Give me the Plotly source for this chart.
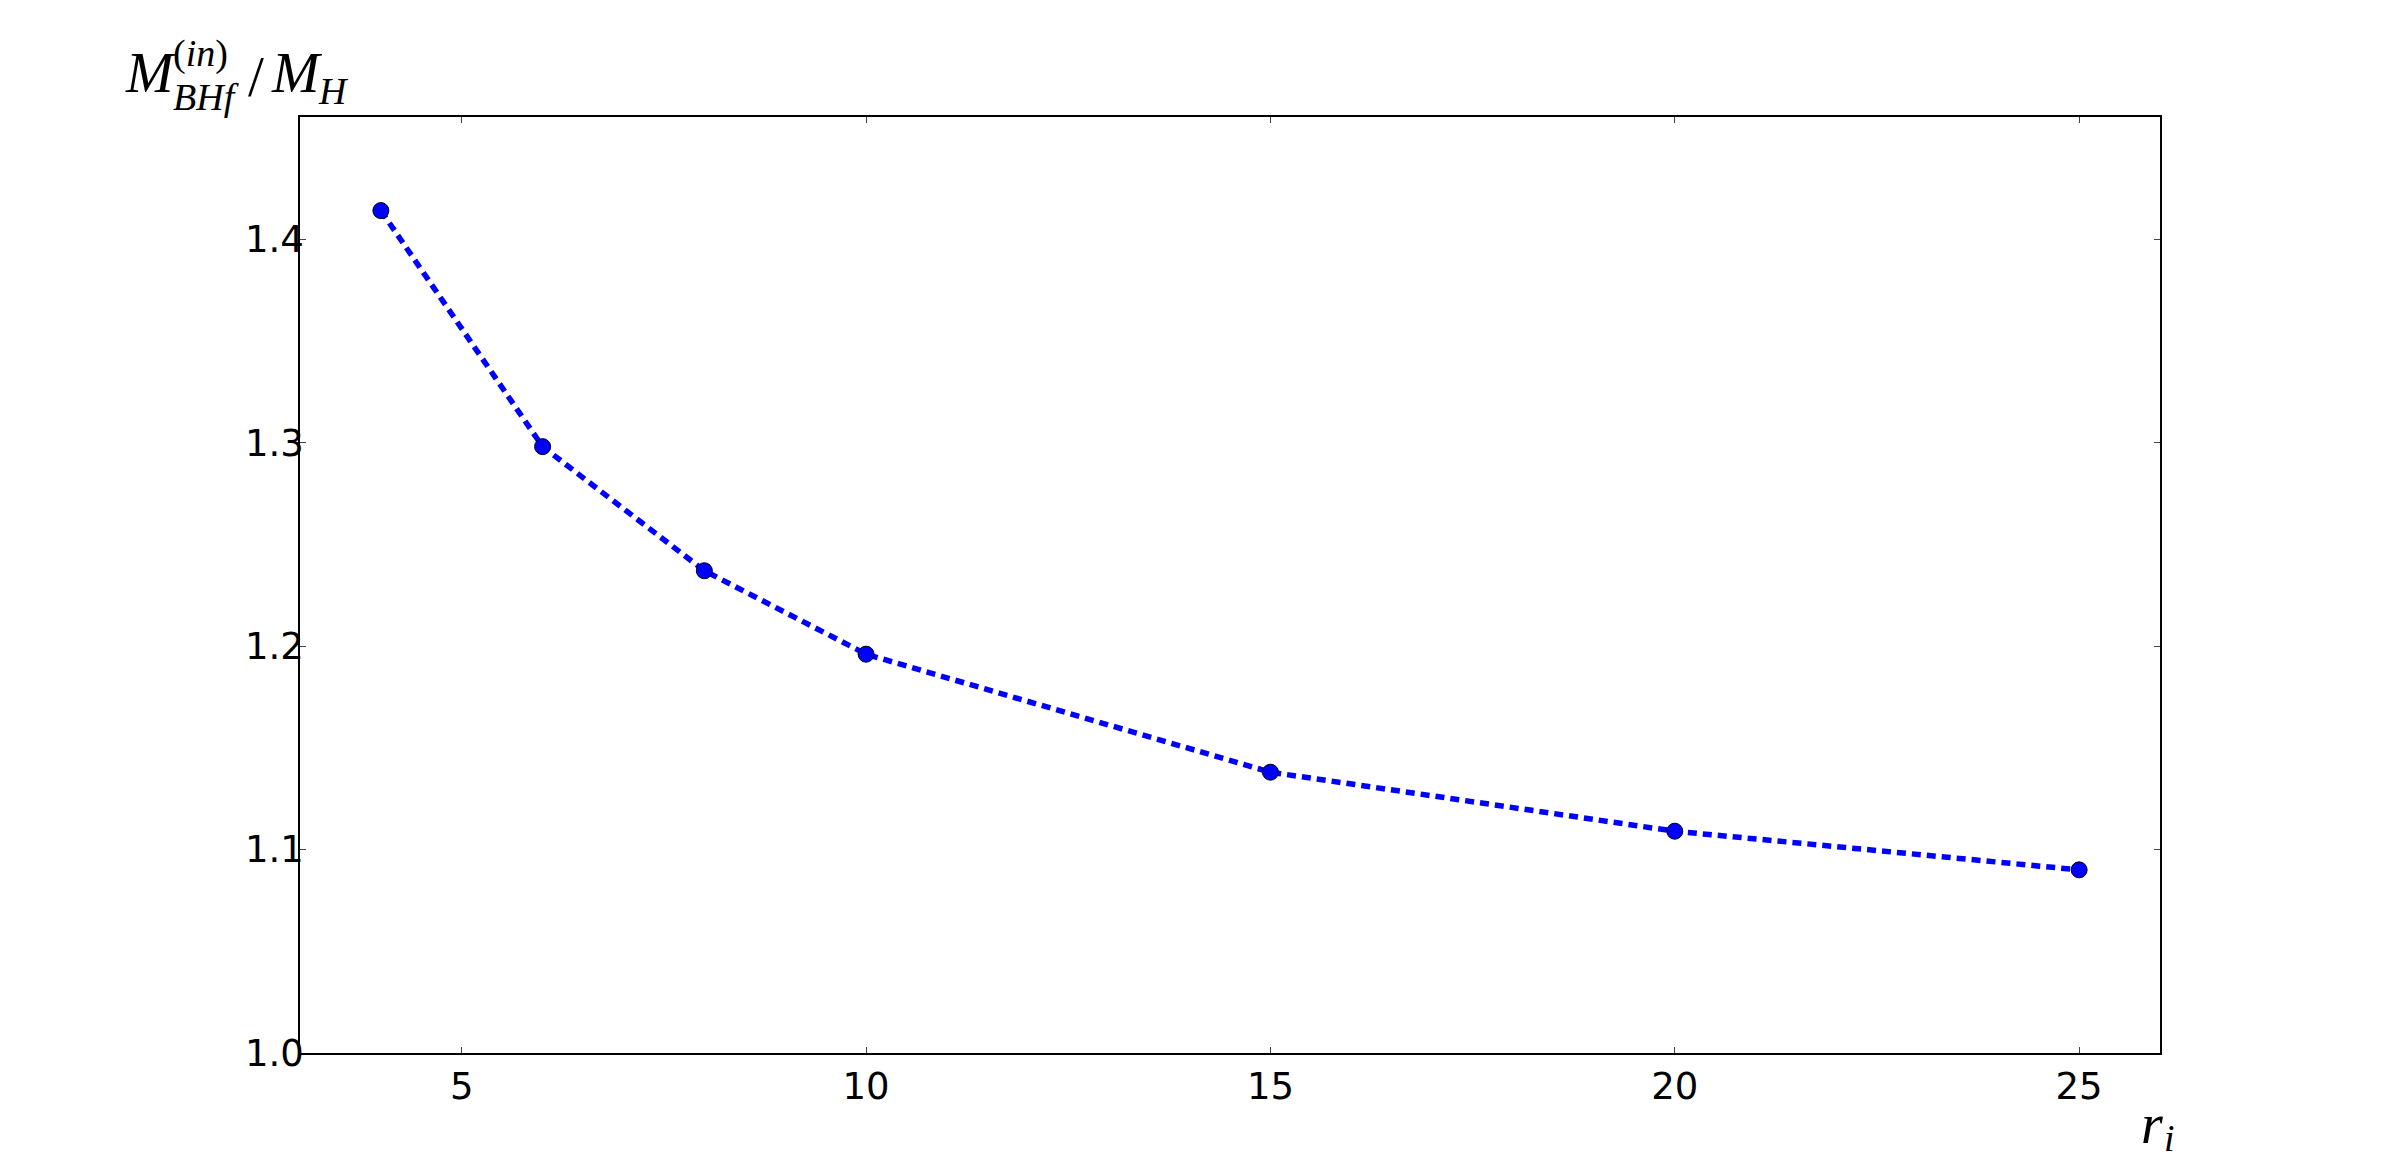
import plotly.graph_objects as go

r_i = [4, 6, 8, 10, 15, 20, 25]
mass_ratio = [1.414, 1.298, 1.237, 1.196, 1.138, 1.109, 1.090]

x_ticks = [5, 10, 15, 20, 25]
y_ticks = [1.0, 1.1, 1.2, 1.3, 1.4]
y_tick_labels = ["1.0", "1.1", "1.2", "1.3", "1.4"]

# plot area on screen (page has 8px body offset)
PL, PT, PW, PH = 300, 117, 1860, 936


def px(sx):
    return (sx - PL) / PW


def py(sy):
    return (PT + PH - sy) / PH


fig = go.Figure()
fig.add_trace(go.Scatter(
    x=r_i, y=mass_ratio, mode="lines+markers",
    line=dict(color="#0000ff", width=5.5, dash="9px,6px"),
    marker=dict(size=16, color="#0000ff", line=dict(color="black", width=1)),
    showlegend=False,
))

axis_common = dict(
    showline=True, linecolor="black", linewidth=1.5, mirror="ticks",
    ticks="inside", ticklen=6, tickwidth=1, tickcolor="#444",
    showgrid=False, zeroline=False,
    tickfont=dict(family="DejaVu Sans", size=37, color="black"),
)

serif = "Liberation Serif, DejaVu Serif, serif"


def label(text, sx, sy, size):
    return dict(text=text, xref="paper", yref="paper",
                x=px(sx), y=py(sy), xanchor="left", yanchor="middle",
                showarrow=False, borderpad=0,
                font=dict(family=serif, size=size, color="black"))


annotations = [
    label("<i>M</i>", 124, 73, 57),
    label("(<i>in</i>)", 172, 53, 38),
    label("<i>BHf</i>", 172, 97, 38),
    label("/", 247, 77, 57),
    label("<i>M</i>", 270, 73, 57),
    label("<i>H</i>", 317, 91, 38),
    label("<i>r</i>", 2140, 1124, 56),
    label("<i>i</i>", 2163, 1138, 38),
]

fig.update_layout(
    width=2392, height=1162,
    paper_bgcolor="white", plot_bgcolor="white",
    margin=dict(l=292, r=240, t=109, b=117),
    xaxis=dict(range=[3, 26], tickvals=x_ticks, ticklabelstandoff=0, **axis_common),
    yaxis=dict(range=[1.0, 1.46], tickvals=y_ticks, ticktext=y_tick_labels,
               ticklabelstandoff=-13, **axis_common),
    annotations=annotations,
)

fig.write_html("out.html")
